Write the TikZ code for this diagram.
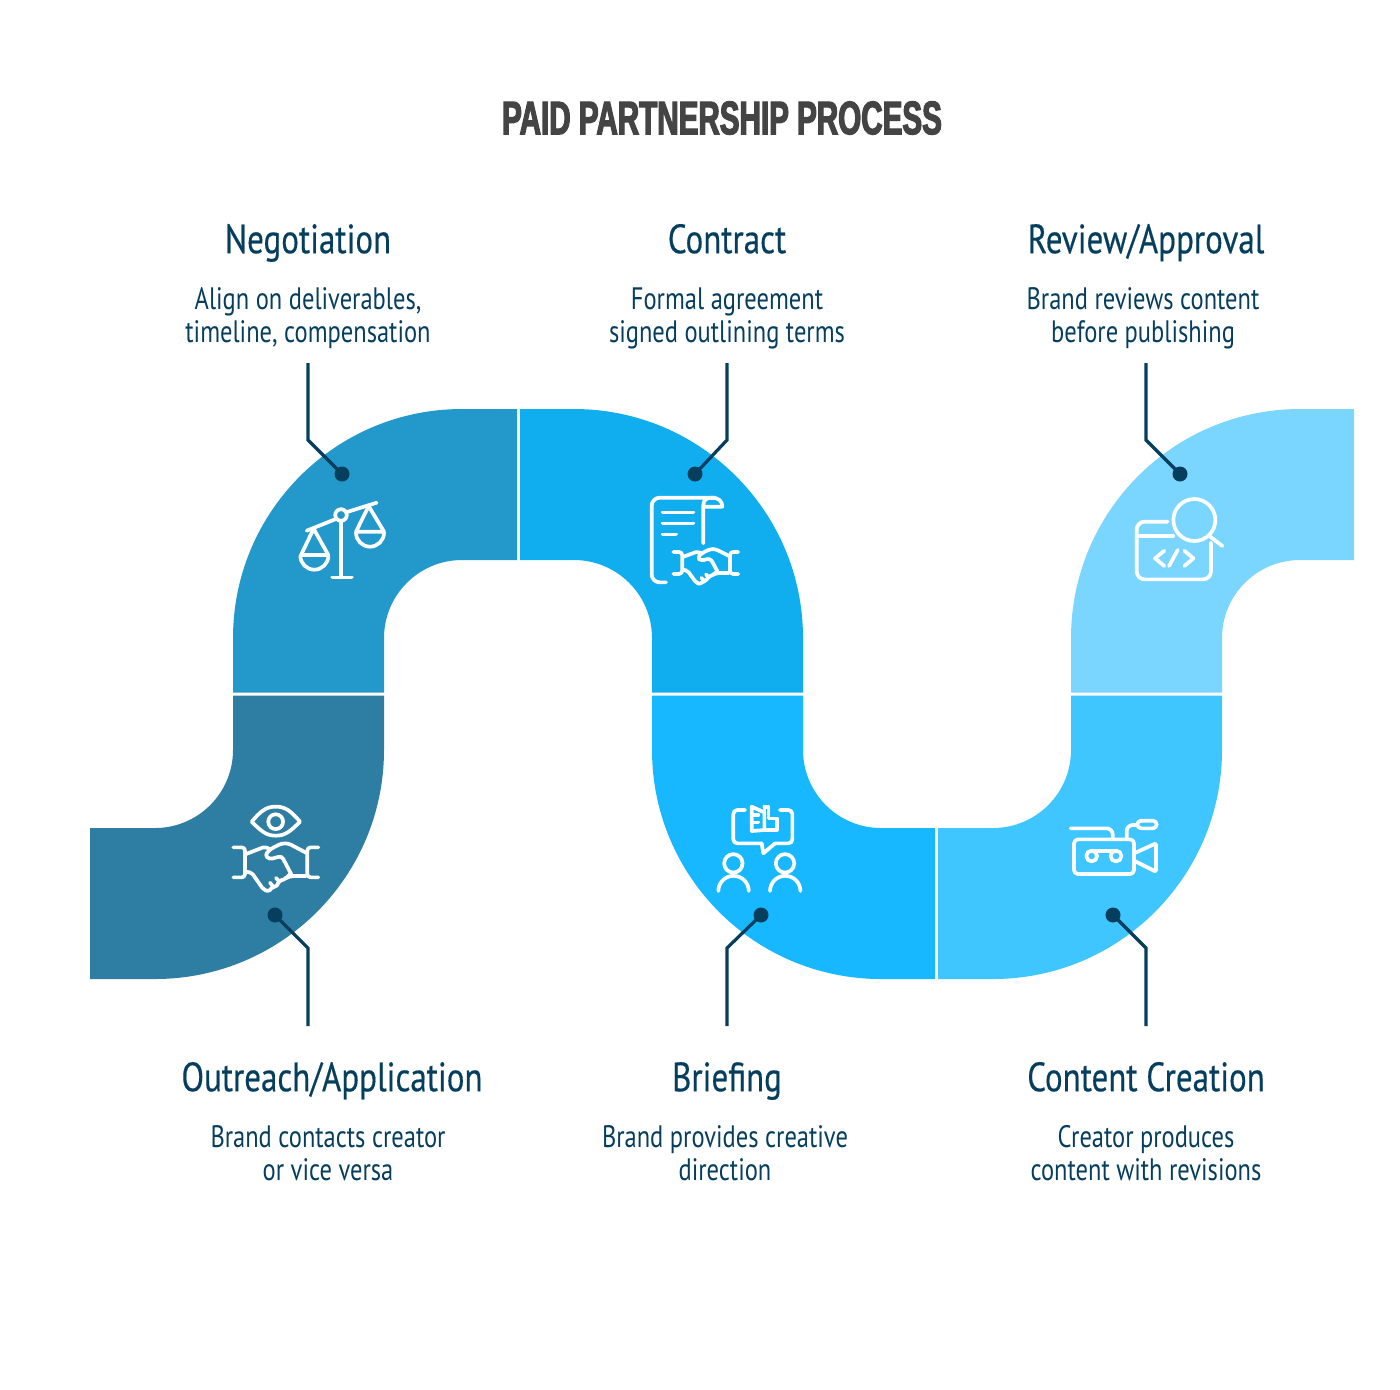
\documentclass[tikz,border=0pt]{standalone}
\usepackage{fontspec}
\setmainfont{PT Sans}
\newfontfamily\headfont[FakeStretch=0.805,FakeBold=0.35]{PT Sans}
\newfontfamily\bodyfont[FakeStretch=0.79]{PT Sans}
\newfontfamily\titlefont[FakeStretch=0.63,FakeBold=2.6]{Liberation Sans Bold}
\definecolor{segA}{HTML}{2E7DA3}
\definecolor{segB}{HTML}{2298CB}
\definecolor{segC}{HTML}{10ADEF}
\definecolor{segD}{HTML}{17B8FF}
\definecolor{segE}{HTML}{3FC5FF}
\definecolor{segF}{HTML}{7BD6FF}
\definecolor{navy}{HTML}{063E5E}
\definecolor{ttl}{HTML}{444444}
\def\rin{39pt}
\def\rout{114.5pt}
\newcommand\hands{%
  \draw[icon,rounded corners=1.6pt] (40,172)--(75,172)--(75,262)--(40,262);
  \draw[icon,rounded corners=1.6pt] (295,172)--(262,172)--(262,262)--(295,262);
  \draw[icon,rounded corners=1pt] (78,192)--(135,170)--(150,178);
  \draw[icon,rounded corners=1.5pt] (258,188)--(205,160)--(185,160)--(150,178)--(135,195)--(148,208)--(185,198)--(215,255);
  \draw[icon,rounded corners=1pt] (258,258)--(215,258)--(195,265);
  \draw[icon,rounded corners=1pt] (78,245)--(95,248)--(130,298)--(148,305)--(156,290)--(168,292)--(178,272)--(195,268)--(212,250);
  \draw[icon] (150,278)--(158,288);
  \draw[icon] (168,264)--(178,274);
}
\tikzset{
  icon/.style={draw=white,line width=1.85pt,line cap=round,line join=round,fill=none},
  zm/.style n args={2}{shift={(#1,#2)},x=.16667pt,y=-.16667pt},
  lead/.style={draw=navy,line width=1.6pt},
  dotn/.style={circle,fill=navy,inner sep=0pt,minimum size=7.5pt},
  head/.style={text=navy,font=\headfont\fontsize{20.5pt}{23pt}\selectfont,inner sep=0pt,anchor=center,execute at begin node=\strut},
  body/.style={text=navy,font=\bodyfont\fontsize{15.5pt}{16.5pt}\selectfont,inner sep=0pt,align=center,anchor=center,execute at begin node=\strut,execute at end node=\strut},
}
\begin{document}
\begin{tikzpicture}[x=0.5pt,y=-0.5pt]
\useasboundingbox (0,0) rectangle (1400,1389);
% ribbon
\fill[segA] (90,828)--(155,828) arc[start angle=-90,end angle=0,radius=\rin]--(233,695.5)--(384,695.5)--(384,750) arc[start angle=0,end angle=-90,radius=\rout]--(90,979)--cycle;
\fill[segB] (233,692.5)--(233,638) arc[start angle=180,end angle=90,radius=\rout]--(517,409)--(517,560)--(462,560) arc[start angle=90,end angle=180,radius=\rin]--(384,692.5)--cycle;
\fill[segC] (520,409)--(574,409) arc[start angle=90,end angle=0,radius=\rout]--(803,692.5)--(652,692.5)--(652,638) arc[start angle=0,end angle=90,radius=\rin]--(520,560)--cycle;
\fill[segD] (652,695.5)--(652,750) arc[start angle=180,end angle=270,radius=\rout]--(935,979)--(935,828)--(881,828) arc[start angle=270,end angle=180,radius=\rin]--(803,695.5)--cycle;
\fill[segE] (938,828)--(993,828) arc[start angle=-90,end angle=0,radius=\rin]--(1071,695.5)--(1222,695.5)--(1222,750) arc[start angle=0,end angle=-90,radius=\rout]--(938,979)--cycle;
\fill[segF] (1071,692.5)--(1071,638) arc[start angle=180,end angle=90,radius=\rout]--(1354,409)--(1354,560)--(1300,560) arc[start angle=90,end angle=180,radius=\rin]--(1222,692.5)--cycle;
% title
\node[text=ttl,inner sep=0pt,font=\titlefont\fontsize{23.5pt}{26pt}\selectfont] (title) at (722,118) {PAID PARTNERSHIP PROCESS};
% labels
\node[head] (h1) at (308,244) {Negotiation};
\node[body] (b1) at (308,320) {Align on deliverables,\\timeline, compensation};
\node[head] (h2) at (727,244) {Contract};
\node[body] (b2) at (727,320) {Formal agreement\\signed outlining terms};
\node[head] (h3) at (1146,244) {Review/Approval};
\node[body] (b3) at (1143,320) {Brand reviews content\\before publishing};
\node[head] (h4) at (332,1082) {Outreach/Application};
\node[body] (b4) at (328,1158) {Brand contacts creator\\or vice versa};
\node[head] (h5) at (727,1082) {Briefing};
\node[body] (b5) at (725,1158) {Brand provides creative\\direction};
\node[head] (h6) at (1146,1082) {Content Creation};
\node[body] (b6) at (1146,1158) {Creator produces\\content with revisions};
% leaders
\coordinate (t1) at (308,363); \coordinate (k1) at (308,440); \node[dotn] (d1) at (342,474) {};
\coordinate (t2) at (727,363); \coordinate (k2) at (727,440); \node[dotn] (d2) at (695,474) {};
\coordinate (t3) at (1146,363); \coordinate (k3) at (1146,440); \node[dotn] (d3) at (1180,474) {};
\coordinate (t4) at (308,1026); \coordinate (k4) at (308,948); \node[dotn] (d4) at (275,915) {};
\coordinate (t5) at (727,1026); \coordinate (k5) at (727,948); \node[dotn] (d5) at (761,915) {};
\coordinate (t6) at (1146,1026); \coordinate (k6) at (1146,948); \node[dotn] (d6) at (1113,915) {};
\draw[lead] (t1)--(k1)--(d1.center);
\draw[lead] (t2)--(k2)--(d2.center);
\draw[lead] (t3)--(k3)--(d3.center);
\draw[lead] (t4)--(k4)--(d4.center);
\draw[lead] (t5)--(k5)--(d5.center);
\draw[lead] (t6)--(k6)--(d6.center);
% icon: eye + handshake
\begin{scope}[zm={220}{790}]
  \draw[icon] (95,95) .. controls (125,60) and (140,50) .. (167,50) .. controls (195,50) and (210,60) .. (240,95) .. controls (210,125) and (195,137) .. (167,137) .. controls (140,137) and (125,125) .. (95,95) -- cycle;
  \draw[icon] (167,95) circle[radius=3.7pt];
  \hands
\end{scope}
% icon: scales
\begin{scope}[zm={285}{490}]
  \draw[icon] (65,122)--(150,88);
  \draw[icon] (186,66)--(275,38);
  \draw[icon] (168,75) circle[radius=2.9pt];
  \draw[icon] (168,92)--(168,262);
  \draw[icon] (142,262)--(200,262);
  \draw[icon] (85,118)--(48,195)--(130,195)--(87,118);
  \draw[icon] (46,197) arc[start angle=180,end angle=360,radius=7pt];
  \draw[icon] (250,50)--(213,125)--(297,125)--(252,50);
  \draw[icon] (213,128) arc[start angle=180,end angle=360,radius=7pt];
\end{scope}
% icon: contract
\begin{scope}[zm={640}{485}]
  \draw[icon,rounded corners=4pt] (78,292)--(35,292)--(35,38)--(225,38);
  \draw[icon] (190,175)--(190,60) .. controls (190,45) and (200,38) .. (215,38) .. controls (235,38) and (247,48) .. (247,65) -- (197,65);
  \draw[icon] (68,82)--(160,82);
  \draw[icon] (68,115)--(160,115);
  \draw[icon] (68,148)--(108,148);
\end{scope}
\begin{scope}[shift={(663.1,510)},x=.1275pt,y=-.122pt]
  \hands
\end{scope}
% icon: briefing
\begin{scope}[zm={705}{795}]
  \draw[icon,rounded corners=2pt] (120,45)--(85,45)--(85,145)--(170,145);
  \draw[icon] (170,145)--(175,175)--(210,145);
  \draw[icon,rounded corners=2pt] (210,145)--(262,145)--(262,45)--(225,45);
  \draw[icon] (140,35)--(178,52)--(178,105)--(140,108)--cycle;
  \draw[icon] (178,52)--(178,35);
  \draw[icon] (178,35)--(190,35)--(190,70)--(215,70)--(215,105)--(178,105);
  \draw[icon] (140,60)--(160,60);
  \draw[icon] (140,82)--(160,82);
  \draw[icon] (85,205) circle[radius=4.6pt];
  \draw[icon] (240,205) circle[radius=4.6pt];
  \draw[icon] (40,288) arc[start angle=180,end angle=0,radius=7.6pt];
  \draw[icon] (195,288) arc[start angle=180,end angle=0,radius=7.6pt];
\end{scope}
% icon: camera
\begin{scope}[zm={1060}{810}]
  \draw[icon,rounded corners=2pt] (42,88) rectangle (222,192);
  \draw[icon,rounded corners=3pt] (32,55)--(158,55)--(158,88);
  \draw[icon,rounded corners=3pt] (200,88)--(200,45)--(232,45);
  \draw[icon,rounded corners=1.9pt] (232,32) rectangle (290,55);
  \draw[icon] (95,138) circle[radius=2.7pt];
  \draw[icon] (168,138) circle[radius=2.7pt];
  \draw[icon] (95,122)--(168,122);
  \draw[icon,rounded corners=.6pt] (222,130)--(288,100)--(288,185)--(222,152);
\end{scope}
% icon: review
\begin{scope}[zm={1125}{490}]
  \draw[icon,rounded corners=4pt] (128,95)--(35,95)--(35,268)--(258,268)--(258,158);
  \draw[icon] (35,138)--(145,138);
  \draw[icon] (118,182)--(90,205)--(118,228);
  \draw[icon] (132,228)--(158,180);
  \draw[icon] (178,182)--(205,205)--(178,228);
  \draw[icon] (208,90) circle[radius=10.5pt];
  \draw[icon] (253,138)--(292,168);
\end{scope}
\end{tikzpicture}
\end{document}
